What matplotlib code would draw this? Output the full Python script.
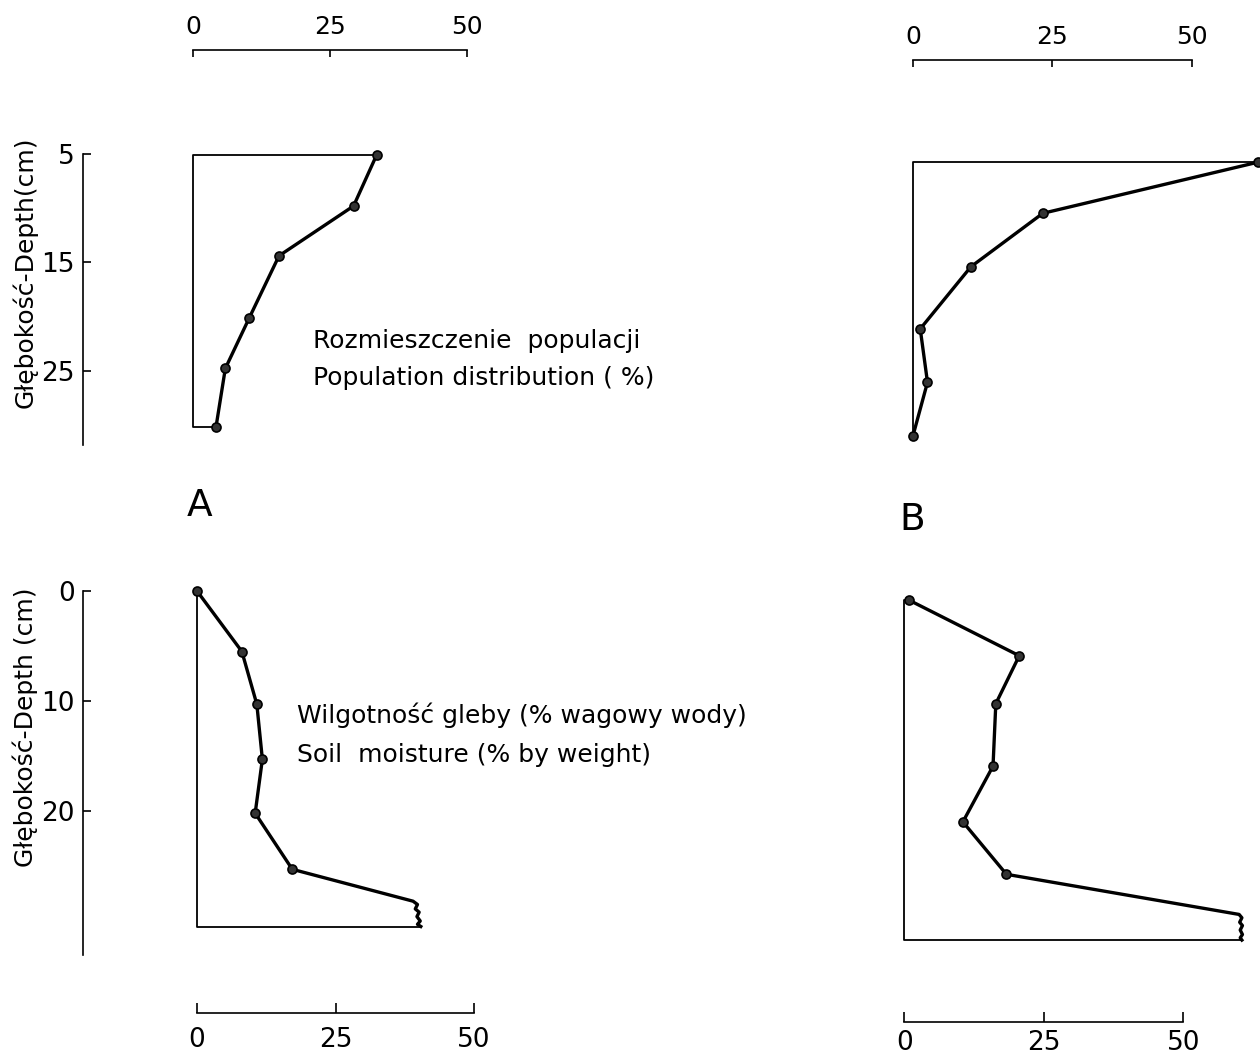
import matplotlib
matplotlib.use('Agg')
import matplotlib.pyplot as plt

W, H = 1260, 1055
plt.rcParams['font.family'] = ['DejaVu Sans']

# population distribution (%) against depth (cm)
pop_depth_a = [5.1, 9.8, 14.4, 20.1, 24.8, 30.2]
pop_a = [33.5, 29.3, 15.7, 10.3, 5.9, 4.2]
pop_depth_b = [5.1, 9.8, 14.7, 20.4, 25.3, 30.2]
pop_b = [62.0, 23.3, 10.4, 1.3, 2.6, 0.0]

# soil moisture (% by weight) against depth (cm)
moist_depth_a = [0.0, 5.5, 10.3, 15.3, 20.2, 25.3]
moist_a = [0.0, 8.1, 10.8, 11.8, 10.5, 17.2]
edge_depth_a = [28.2, 28.5, 28.9, 29.2, 29.6, 30.0, 30.3, 30.5]
edge_a = [39.0, 39.8, 39.4, 40.1, 39.7, 40.3, 39.8, 40.4]

moist_depth_b = [0.0, 5.0, 9.3, 14.9, 19.9, 24.6]
moist_b = [0.8, 20.6, 16.4, 15.9, 10.5, 18.3]
edge_depth_b = [28.2, 28.5, 28.9, 29.2, 29.6, 30.0, 30.3, 30.5]
edge_b = [60.0, 60.5, 60.1, 60.6, 60.2, 60.6, 60.2, 60.5]

scale_ticks = [0, 25, 50]
pop_depth_ticks = [5, 15, 25]
moist_depth_ticks = [0, 10, 20]

fig = plt.figure(figsize=(W / 100, H / 100), dpi=100)


def panel(left, top, right, bottom, x0, sx, yref, dref, sy):
    ax = fig.add_axes([left / W, 1 - bottom / H, (right - left) / W, (bottom - top) / H])
    ax.set_xlim((left - x0) / sx, (right - x0) / sx)
    ax.set_ylim(dref + (bottom - yref) / sy, dref + (top - yref) / sy)
    for s in ax.spines.values():
        s.set_visible(False)
        s.set_linewidth(1.2)
    ax.set_xticks([])
    ax.set_yticks([])
    ax.patch.set_visible(False)
    return ax


def profile(ax, x, d, ex=[], ed=[]):
    xs = x + ex
    ds = d + ed
    ax.plot([xs[0], 0, 0, xs[-1]], [ds[0], ds[0], ds[-1], ds[-1]],
            color='k', lw=1.3, clip_on=False)
    ax.plot(xs, ds, color='k', lw=2.4, clip_on=False, solid_joinstyle='round')
    ax.plot(x, d, 'o', ms=6.5, mfc='#333333', mec='k', mew=1.2, clip_on=False)


def scale_bar(ax, where, pad=10):
    sp = ax.spines[where]
    sp.set_visible(True)
    sp.set_bounds(0, 50)
    ax.set_xticks(scale_ticks)
    if where == 'top':
        ax.xaxis.tick_top()
        ax.tick_params(axis='x', direction='in', length=5, width=1.2, pad=8, labelsize=18)
    else:
        ax.tick_params(axis='x', direction='in', length=7, width=1.2, pad=pad, labelsize=19)


def depth_axis(ax, ticks, lo, hi):
    sp = ax.spines['left']
    sp.set_visible(True)
    sp.set_bounds(lo, hi)
    ax.set_yticks(ticks)
    ax.tick_params(axis='y', direction='in', length=6, width=1.2, pad=6, labelsize=19)


ax1 = panel(83, 50, 760, 460, 193, 5.48, 154, 5, 10.83)
profile(ax1, pop_a, pop_depth_a)
scale_bar(ax1, 'top')
depth_axis(ax1, pop_depth_ticks, 5, 31.9)

ax2 = panel(860, 60, 1258, 460, 913, 5.57, 161, 5, 10.9)
profile(ax2, pop_b, pop_depth_b)
scale_bar(ax2, 'top')

ax3 = panel(83, 560, 760, 1013, 197, 5.54, 591, 0, 11.0)
profile(ax3, moist_a, moist_depth_a, edge_a, edge_depth_a)
scale_bar(ax3, 'bottom')
depth_axis(ax3, moist_depth_ticks, 0, 33.1)

ax4 = panel(860, 570, 1258, 1022, 904.3, 5.58, 600, 0, 11.15)
profile(ax4, moist_b, moist_depth_b, edge_b, edge_depth_b)
scale_bar(ax4, 'bottom', pad=6)


def ftext(x, y, s, **kw):
    fig.text(x / W, 1 - y / H, s, **kw)


ftext(313, 348, 'Rozmieszczenie  populacji', fontsize=18, va='baseline')
ftext(313, 385, 'Population distribution ( %)', fontsize=18, va='baseline')
ftext(297, 723, 'Wilgotność gleby (% wagowy wody)', fontsize=18, va='baseline')
ftext(297, 762, 'Soil  moisture (% by weight)', fontsize=18, va='baseline')
ftext(200, 506, 'A', fontsize=27, ha='center', va='center')
ftext(912, 520, 'B', fontsize=27, ha='center', va='center')
ftext(25, 272, 'Głębokość-Depth(cm)', fontsize=18, rotation=90, ha='center', va='center')
ftext(25, 727, 'Głębokość-Depth (cm)', fontsize=18, rotation=90, ha='center', va='center')

fig.savefig('out.png', dpi=100)
